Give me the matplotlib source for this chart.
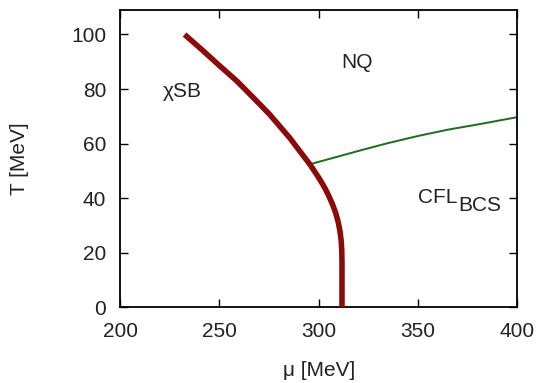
import matplotlib
matplotlib.use("Agg")
import matplotlib.pyplot as plt

plt.rcParams['font.family'] = ['Liberation Sans', 'DejaVu Sans']

# Chiral transition line (mu, T) in MeV
chiral_mu = [232.5, 242, 250, 258.7, 267, 275.4, 285.5, 295.5, 298, 300.5, 303,
             305, 307, 308.5, 309.8, 310.7, 311.3, 311.6, 311.7, 311.7]
chiral_T = [100, 93.9, 88.6, 83.0, 76.9, 70.6, 62.0, 52.4, 49.7, 46.9, 43.8,
            40.9, 37.6, 34.6, 31.2, 27.8, 24.3, 20.5, 16, 0]

# CFL -> normal quark matter transition line
cfl_mu = [296, 310, 322, 335, 350, 365, 380, 400]
cfl_T = [52.5, 55.3, 57.7, 60.2, 62.8, 65.1, 67.0, 69.7]

xticks = [200, 250, 300, 350, 400]
yticks = [0, 20, 40, 60, 80, 100]

fs = 15
txt = '#222222'

fig = plt.figure(figsize=(5.43, 3.83), dpi=100)
ax = fig.add_axes([0.221, 0.198, 0.953 - 0.221, 0.974 - 0.198])

ax.plot(chiral_mu, chiral_T, color='#8b0a0a', lw=4.0, solid_capstyle='butt',
        solid_joinstyle='round', zorder=3)
ax.plot(cfl_mu, cfl_T, color='#1d6b1d', lw=1.4, zorder=2)

ax.set_xlim(200, 400)
ax.set_ylim(0, 109)
ax.set_xticks(xticks)
ax.set_yticks(yticks)

ax.tick_params(direction='in', length=6, width=1.0, top=True, right=True,
               labelsize=fs, colors='black', labelcolor=txt)
ax.tick_params(axis='x', pad=11)
ax.tick_params(axis='y', pad=10)
for s in ax.spines.values():
    s.set_linewidth(1.3)

ax.set_xlabel('μ [MeV]', fontsize=fs, color=txt)
ax.set_ylabel('T [MeV]', fontsize=fs, color=txt)
ax.xaxis.set_label_coords(0.5, -0.18)
ax.yaxis.set_label_coords(-0.228, 0.5)

ax.text(231.4, 79.2, 'χSB', fontsize=fs, color=txt, ha='center', va='center')
ax.text(319.4, 89.6, 'NQ', fontsize=fs, color=txt, ha='center', va='center')
cfl = ax.text(350, 38.1, 'CFL', fontsize=fs, color=txt, ha='left', va='baseline')
ax.annotate('BCS', xy=(1, 0), xycoords=cfl, xytext=(0.5, -2.6),
            textcoords='offset points', fontsize=fs, color=txt,
            ha='left', va='baseline')

fig.savefig('out.png', dpi=100)
